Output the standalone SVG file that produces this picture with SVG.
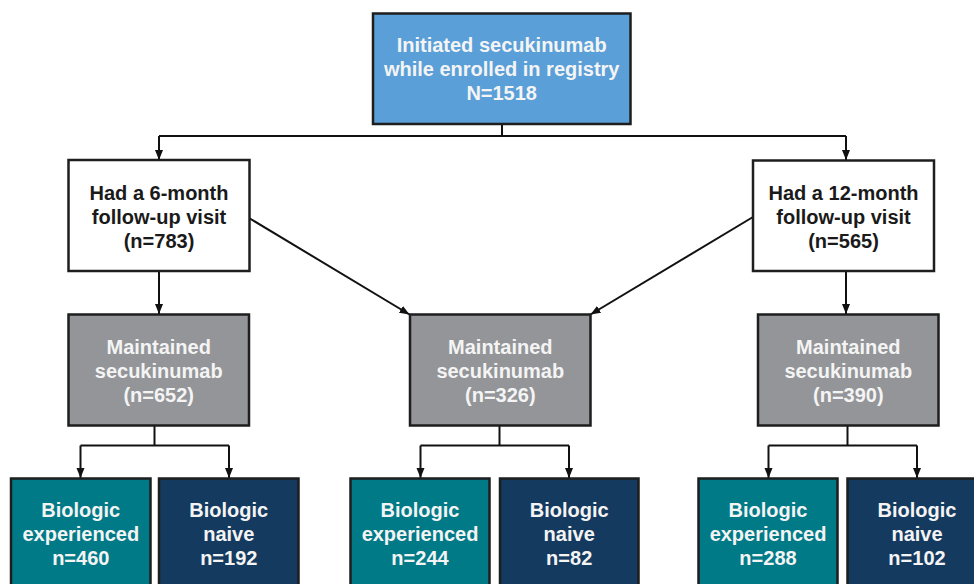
<svg xmlns="http://www.w3.org/2000/svg" width="974" height="584" viewBox="0 0 974 584">
<defs>
<marker id="arr" markerUnits="userSpaceOnUse" markerWidth="10" markerHeight="10" viewBox="0 0 10 10" refX="10" refY="5" orient="auto">
<path d="M0,1 L10,5 L0,9 Z" fill="#111"/>
</marker>
<style>
.box{stroke:#1e1e1e;stroke-width:2.5}
.blue{fill:#5A9FD8}
.white{fill:#ffffff}
.gray{fill:#939598}
.teal{fill:#007A87}
.navy{fill:#143A5F}
text{font-family:"Liberation Sans",Arial,sans-serif;font-weight:bold;font-size:20px;text-anchor:middle}
.lt{fill:#f4f4f4}
.dk{fill:#1a1a1a}
.conn{fill:none;stroke:#111;stroke-width:2}
</style>
</defs>
<rect width="974" height="584" fill="#ffffff"/>
<g id="connectors">
<path class="conn" d="M502,124 V136"/>
<path class="conn" d="M159,136 H846"/>
<path class="conn" d="M159,136 V160" marker-end="url(#arr)"/>
<path class="conn" d="M846,136 V160" marker-end="url(#arr)"/>
<path class="conn" d="M159,271 V314" marker-end="url(#arr)"/>
<path class="conn" d="M846,271 V314" marker-end="url(#arr)"/>
<path class="conn" d="M249,218 L409.5,314.5" marker-end="url(#arr)"/>
<path class="conn" d="M753,217 L590.5,314.5" marker-end="url(#arr)"/>
<path class="conn" d="M154.5,426 V445.5"/>
<path class="conn" d="M80.5,445.5 H229"/>
<path class="conn" d="M80.5,445.5 V478" marker-end="url(#arr)"/>
<path class="conn" d="M229,445.5 V478" marker-end="url(#arr)"/>
<path class="conn" d="M499.5,426 V445.5"/>
<path class="conn" d="M420.5,445.5 H569"/>
<path class="conn" d="M420.5,445.5 V478" marker-end="url(#arr)"/>
<path class="conn" d="M569,445.5 V478" marker-end="url(#arr)"/>
<path class="conn" d="M847.5,426 V445.5"/>
<path class="conn" d="M768.5,445.5 H917"/>
<path class="conn" d="M768.5,445.5 V478" marker-end="url(#arr)"/>
<path class="conn" d="M917,445.5 V478" marker-end="url(#arr)"/>
</g>
<g id="initiated">
<rect class="box blue" x="373" y="13.5" width="257.5" height="110.5"/>
<text class="lt" x="501.7" y="52">Initiated secukinumab</text>
<text class="lt" x="501.7" y="76">while enrolled in registry</text>
<text class="lt" x="501.7" y="100">N=1518</text>
</g>
<g id="six-month">
<rect class="box white" x="68.5" y="160" width="181" height="111"/>
<text class="dk" x="159" y="200">Had a 6-month</text>
<text class="dk" x="159" y="224">follow-up visit</text>
<text class="dk" x="159" y="248">(n=783)</text>
</g>
<g id="twelve-month">
<rect class="box white" x="753" y="160.5" width="181" height="110.5"/>
<text class="dk" x="843.5" y="200">Had a 12-month</text>
<text class="dk" x="843.5" y="224">follow-up visit</text>
<text class="dk" x="843.5" y="248">(n=565)</text>
</g>
<g id="maintained-652">
<rect class="box gray" x="68.5" y="314.5" width="180.5" height="111"/>
<text class="lt" x="158.7" y="354">Maintained</text>
<text class="lt" x="158.7" y="378">secukinumab</text>
<text class="lt" x="158.7" y="402">(n=652)</text>
</g>
<g id="maintained-326">
<rect class="box gray" x="410" y="314.5" width="180.5" height="111"/>
<text class="lt" x="500.3" y="354">Maintained</text>
<text class="lt" x="500.3" y="378">secukinumab</text>
<text class="lt" x="500.3" y="402">(n=326)</text>
</g>
<g id="maintained-390">
<rect class="box gray" x="758" y="314.5" width="180.5" height="111"/>
<text class="lt" x="848.3" y="354">Maintained</text>
<text class="lt" x="848.3" y="378">secukinumab</text>
<text class="lt" x="848.3" y="402">(n=390)</text>
</g>
<g id="exp-460">
<rect class="box teal" x="11" y="478.5" width="139.5" height="115"/>
<text class="lt" x="80.8" y="517">Biologic</text>
<text class="lt" x="80.8" y="541">experienced</text>
<text class="lt" x="80.8" y="565">n=460</text>
</g>
<g id="naive-192">
<rect class="box navy" x="159" y="478.5" width="139.5" height="115"/>
<text class="lt" x="228.8" y="517">Biologic</text>
<text class="lt" x="228.8" y="541">naive</text>
<text class="lt" x="228.8" y="565">n=192</text>
</g>
<g id="exp-244">
<rect class="box teal" x="350.5" y="478.5" width="139" height="115"/>
<text class="lt" x="420" y="517">Biologic</text>
<text class="lt" x="420" y="541">experienced</text>
<text class="lt" x="420" y="565">n=244</text>
</g>
<g id="naive-82">
<rect class="box navy" x="500" y="478.5" width="138.5" height="115"/>
<text class="lt" x="569.2" y="517">Biologic</text>
<text class="lt" x="569.2" y="541">naive</text>
<text class="lt" x="569.2" y="565">n=82</text>
</g>
<g id="exp-288">
<rect class="box teal" x="698.5" y="478.5" width="139" height="115"/>
<text class="lt" x="768" y="517">Biologic</text>
<text class="lt" x="768" y="541">experienced</text>
<text class="lt" x="768" y="565">n=288</text>
</g>
<g id="naive-102">
<rect class="box navy" x="847.5" y="478.5" width="139.5" height="115"/>
<text class="lt" x="917" y="517">Biologic</text>
<text class="lt" x="917" y="541">naive</text>
<text class="lt" x="917" y="565">n=102</text>
</g>
</svg>
